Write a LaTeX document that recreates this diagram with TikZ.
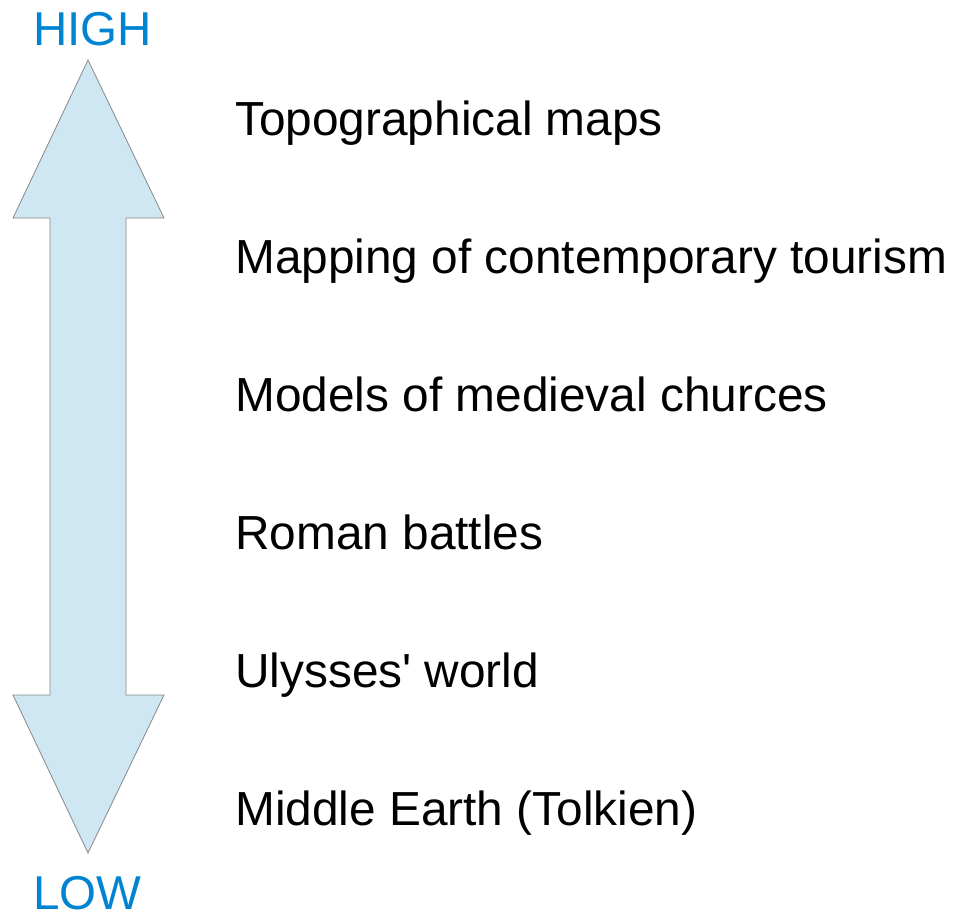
\documentclass[tikz,border=0pt]{standalone}
\usepackage{fontspec}
\setmainfont{Liberation Sans}
\newfontfamily\plainsans{Liberation Sans}
\definecolor{arrowfill}{HTML}{CFE6F3}
\definecolor{arrowline}{HTML}{888888}
\definecolor{scaleblue}{HTML}{0084D1}
\begin{document}
\begin{tikzpicture}[x=1pt,y=-1pt,
  item/.style={anchor=base west,inner sep=0pt,font=\plainsans\fontsize{47.8}{56}\selectfont},
  scalelabel/.style={anchor=base west,inner sep=0pt,text=scaleblue,font=\plainsans\fontsize{47.5}{56}\selectfont}]
\useasboundingbox (0,0) rectangle (953,910);
\draw[fill=arrowfill,draw=arrowline,line width=0.8pt,line join=miter]
  (88,60) -- (164,218) -- (126,218) -- (126,695) -- (164,695) -- (88,853)
  -- (13,695) -- (50,695) -- (50,218) -- (13,218) -- cycle;
\node[scalelabel] (high) at (33,45) {HIGH};
\node[scalelabel] (low) at (33,909) {LOW};
\node[item] (t1) at (235,135) {Topographical maps};
\node[item] (t2) at (235,273) {Mapping of contemporary tourism};
\node[item] (t3) at (235,411) {Models of medieval churces};
\node[item] (t4) at (235,549) {Roman battles};
\node[item] (t5) at (235,687) {Ulysses' world};
\node[item] (t6) at (235,825) {Middle Earth (Tolkien)};
\end{tikzpicture}
\end{document}
